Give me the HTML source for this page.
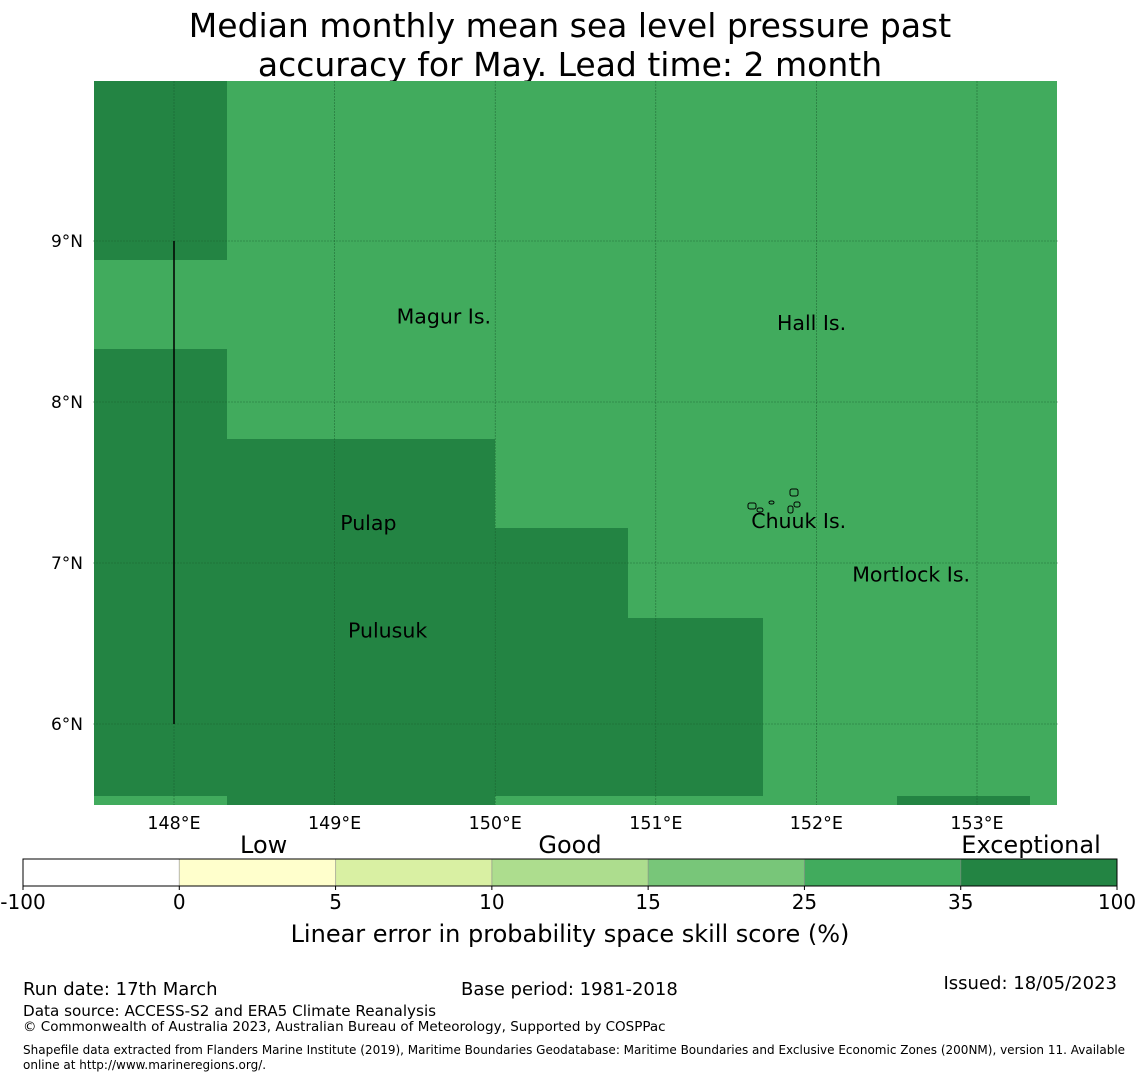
<!DOCTYPE html>
<html><head><meta charset="utf-8">
<style>
body{margin:0;background:#fff;}
svg{display:block;font-family:"DejaVu Sans","Liberation Sans",sans-serif;}
</style></head>
<body>
<svg id="chart" width="1140" height="1080" viewBox="0 0 1140 1080">
<text x="570" y="37" font-size="33" text-anchor="middle">Median monthly mean sea level pressure past</text>
<text x="570" y="76" font-size="33" text-anchor="middle">accuracy for May. Lead time: 2 month</text>
<g id="map"></g>
<g id="cbar"></g>
<text x="570" y="942" font-size="24" text-anchor="middle">Linear error in probability space skill score (%)</text>
<text x="23" y="995" font-size="18">Run date: 17th March</text>
<text x="461" y="995" font-size="18">Base period: 1981-2018</text>
<text x="1117" y="989" font-size="18" text-anchor="end">Issued: 18/05/2023</text>
<text x="23" y="1016" font-size="15.2">Data source: ACCESS-S2 and ERA5 Climate Reanalysis</text>
<text x="23" y="1031" font-size="13.5">© Commonwealth of Australia 2023, Australian Bureau of Meteorology, Supported by COSPPac</text>
<text x="23" y="1054" font-size="12">Shapefile data extracted from Flanders Marine Institute (2019), Maritime Boundaries Geodatabase: Maritime Boundaries and Exclusive Economic Zones (200NM), version 11. Available</text>
<text x="23" y="1069" font-size="12">online at http://www.marineregions.org/.</text>
</svg>
<script>
// Grid data: level per cell (1 = 25-35, 2 = 35-100), rows top->bottom, columns left->right
const colEdgesLon = [147.5, 148.33, 149.17, 150.0, 150.83, 151.67, 152.5, 153.33, 153.5];
const rowEdgesLat = [10.0, 8.88, 8.33, 7.77, 7.22, 6.66, 5.55, 5.5];
const cellLevels = [
  [2,1,1,1,1,1,1,1],
  [1,1,1,1,1,1,1,1],
  [2,1,1,1,1,1,1,1],
  [2,2,2,1,1,1,1,1],
  [2,2,2,2,1,1,1,1],
  [2,2,2,2,2,1,1,1],
  [1,2,2,1,1,1,2,1]
];
const lonTicks = [148,149,150,151,152,153];
const latTicks = [9,8,7,6];
const places = ["Magur Is.","Hall Is.","Pulap","Chuuk Is.","Mortlock Is.","Pulusuk"];
const placeLon = [149.68,151.97,149.21,151.89,152.59,149.33];
const placeLat = [8.53,8.49,7.25,7.26,6.93,6.58];
const cbLevels = ["-100","0","5","10","15","25","35","100"];
const cbColors = ["#ffffff","#ffffcc","#d9f0a3","#addd8e","#78c679","#41ab5d","#238443"];
const cbCategories = ["Low","Good","Exceptional"];
const cbCategoryPos = [1.54,3.5,6.45];

const NS="http://www.w3.org/2000/svg";
function mk(tag,attrs,parent){const e=document.createElementNS(NS,tag);for(const k in attrs)e.setAttribute(k,attrs[k]);parent.appendChild(e);return e;}
const X0=93,X1=1058,Y0=81,Y1=805;
const xOf=lon=>174+(lon-148)*160.6;
const yOf=lat=>241+(9-lat)*161;
const map=document.getElementById('map');
const levelColor=[null,"#41ab5d","#238443"];
for(let r=0;r<cellLevels.length;r++){for(let c=0;c<cellLevels[r].length;c++){
  const x=Math.round(Math.max(X0,xOf(colEdgesLon[c]))), x2=Math.round(Math.min(X1,xOf(colEdgesLon[c+1])));
  const y=Math.round(Math.max(Y0,yOf(rowEdgesLat[r]))), y2=Math.round(Math.min(Y1,yOf(rowEdgesLat[r+1])));
  const el=mk('rect',{x:x,y:y,width:x2-x,height:y2-y,fill:levelColor[cellLevels[r][c]],"shape-rendering":"crispEdges"},map);
  
  
}}
lonTicks.forEach(l=>{
  const x=xOf(l);
  const g=mk('line',{x1:x,y1:Y0,x2:x,y2:Y1,stroke:"#1a5e2e","stroke-width":0.6,"stroke-dasharray":"2,1",opacity:0.8},map);
  
  
  const t=mk('text',{x:x,y:829,"font-size":17.5,"text-anchor":"middle"},map);t.textContent=l+"°E";
  
  
});
latTicks.forEach(l=>{
  const y=yOf(l);
  const g=mk('line',{x1:X0,y1:y,x2:X1,y2:y,stroke:"#1a5e2e","stroke-width":0.6,"stroke-dasharray":"2,1",opacity:0.8},map);
  
  
  const t=mk('text',{x:83,y:y+6,"font-size":17,"text-anchor":"end"},map);t.textContent=l+"°N";
  
  
});
const bl=mk('line',{x1:xOf(148),y1:yOf(9),x2:xOf(148),y2:yOf(6),stroke:"#000","stroke-width":1.5},map);


places.forEach((p,i)=>{
  const t=mk('text',{x:xOf(placeLon[i]),y:yOf(placeLat[i])+7,"font-size":20.5,"text-anchor":"middle"},map);t.textContent=p;
  
  
});
[[790,489,8,7],[794,502,6,5],[748,503,8,6],[769,501,5,3],[788,506,5,7],[757,508,6,4]].forEach(a=>{
  const e=mk('rect',{x:a[0],y:a[1],width:a[2],height:a[3],fill:"none",stroke:"#000","stroke-width":1,rx:2},map);
  
  
});
const cb=document.getElementById('cbar');
const CX0=23,CX1=1117,CY=859,CH=27,seg=(CX1-CX0)/cbColors.length;
cbColors.forEach((c,i)=>{
  const r=mk('rect',{x:CX0+i*seg,y:CY,width:seg+0.5,height:CH,fill:c},cb);
  
  
  if(i>0){const d=mk('line',{x1:CX0+i*seg,y1:CY,x2:CX0+i*seg,y2:CY+CH,stroke:"#888","stroke-width":1,opacity:0.6},cb);
  
  }
});
const ob=mk('rect',{x:CX0,y:CY,width:CX1-CX0,height:CH,fill:"none",stroke:"#000","stroke-width":1},cb);


cbLevels.forEach((l,i)=>{
  const x=CX0+i*seg;
  const tk=mk('line',{x1:x,y1:CY+CH,x2:x,y2:CY+CH+4,stroke:"#000"},cb);
  
  
  const t=mk('text',{x:x,y:909,"font-size":20,"text-anchor":"middle"},cb);t.textContent=l;
  
  
});
cbCategories.forEach((c,i)=>{
  const t=mk('text',{x:CX0+cbCategoryPos[i]*seg,y:853,"font-size":24,"text-anchor":"middle"},cb);t.textContent=c;
  
  
});
</script>
</body></html>
